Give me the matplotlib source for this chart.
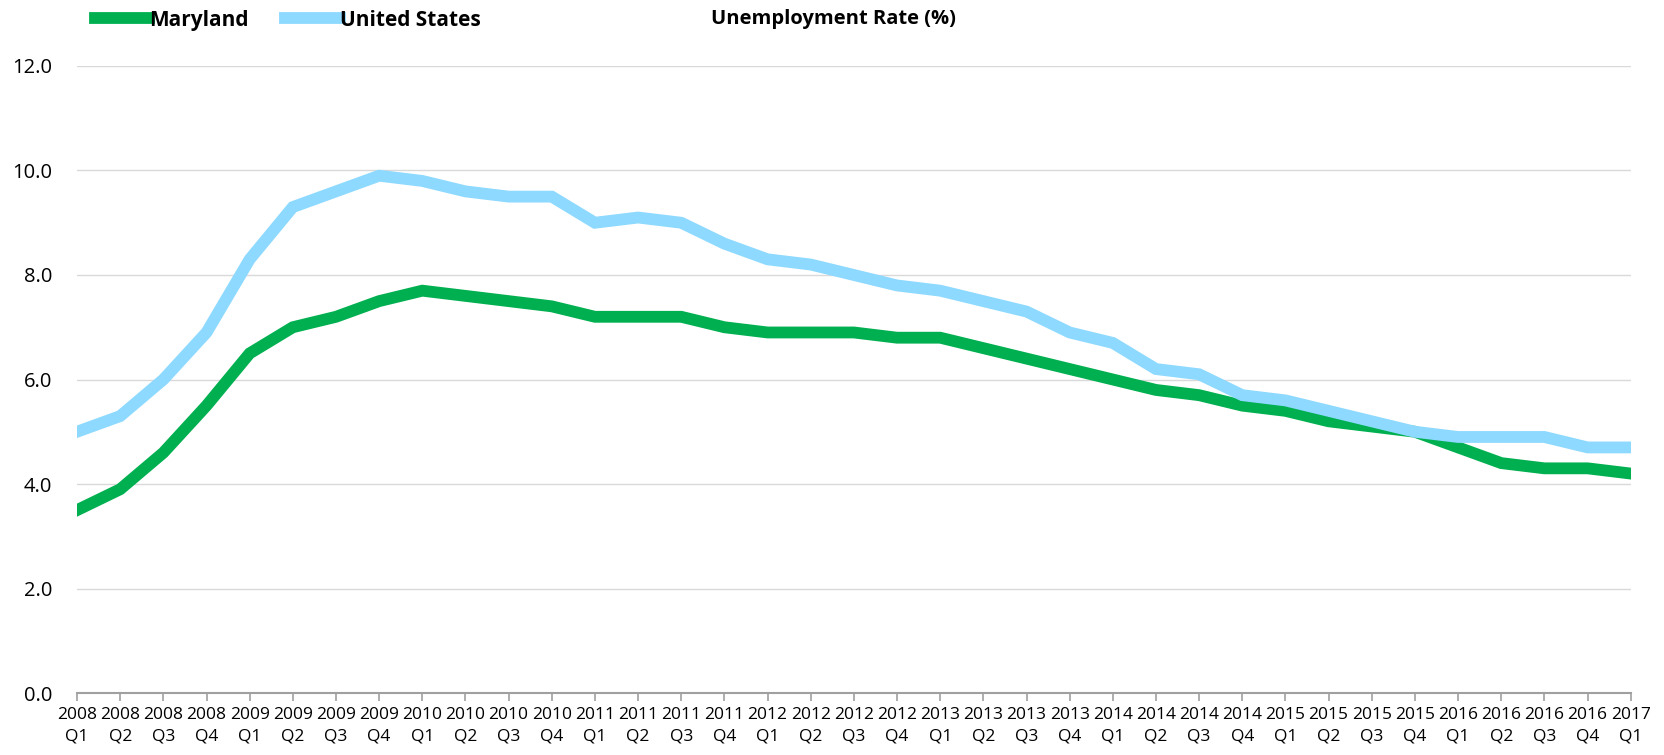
import matplotlib
matplotlib.use("Agg")
import matplotlib.pyplot as plt

quarters = [f"{y}\nQ{q}" for y in range(2008, 2017) for q in range(1, 5)] + ["2017\nQ1"]

maryland = [3.5, 3.9, 4.6, 5.5, 6.5, 7.0, 7.2, 7.5, 7.7, 7.6, 7.5, 7.4,
            7.2, 7.2, 7.2, 7.0, 6.9, 6.9, 6.9, 6.8, 6.8, 6.6, 6.4, 6.2,
            6.0, 5.8, 5.7, 5.5, 5.4, 5.2, 5.1, 5.0, 4.7, 4.4, 4.3, 4.3, 4.2]
united_states = [5.0, 5.3, 6.0, 6.9, 8.3, 9.3, 9.6, 9.9, 9.8, 9.6, 9.5, 9.5,
                 9.0, 9.1, 9.0, 8.6, 8.3, 8.2, 8.0, 7.8, 7.7, 7.5, 7.3, 6.9,
                 6.7, 6.2, 6.1, 5.7, 5.6, 5.4, 5.2, 5.0, 4.9, 4.9, 4.9, 4.7, 4.7]
yticks = [0, 2, 4, 6, 8, 10, 12]

plt.rcParams['font.family'] = ['Open Sans', 'DejaVu Sans']

fig = plt.figure(figsize=(16.64, 7.55), dpi=100)
ax = fig.add_axes([0.0463, 0.0821, 0.9337, 0.8305])

x = list(range(len(quarters)))
green = "#00B050"
blue = "#8DD9FF"
ax.plot(x, maryland, color=green, lw=8.5, solid_joinstyle='miter', label="Maryland", zorder=3)
ax.plot(x, united_states, color=blue, lw=8.5, solid_joinstyle='miter', label="United States", zorder=4)

ax.set_xlim(0, len(quarters) - 1)
ax.set_ylim(0, 12)
ax.set_yticks(yticks)
ax.set_yticklabels([f"{v:.1f}" for v in yticks], fontsize=14.5)
ax.set_xticks(x)
ax.set_xticklabels(quarters, fontsize=12.5, linespacing=1.45)
ax.grid(axis='y', color='#D9D9D9', lw=1)
ax.set_axisbelow(True)
for s in ['top', 'right', 'left']:
    ax.spines[s].set_visible(False)
ax.spines['bottom'].set_color('#A0A0A0')
ax.spines['bottom'].set_linewidth(1.5)
ax.tick_params(axis='y', length=0, pad=18)
ax.tick_params(axis='x', length=6, color='#A0A0A0', width=1.2, pad=4)

fig.text(0.5006, 0.975, "Unemployment Rate (%)", ha='center', va='center',
         fontsize=14.5, fontweight='bold')
leg = fig.legend(loc='upper left', bbox_to_anchor=(0.046, 1.012), ncol=2, frameon=False,
                 prop={'weight': 'bold', 'size': 15}, handlelength=2.6,
                 handletextpad=0.0, columnspacing=1.75)
for h in leg.legend_handles:
    h.set_linewidth(8.5)

fig.savefig("out.png", dpi=100)
